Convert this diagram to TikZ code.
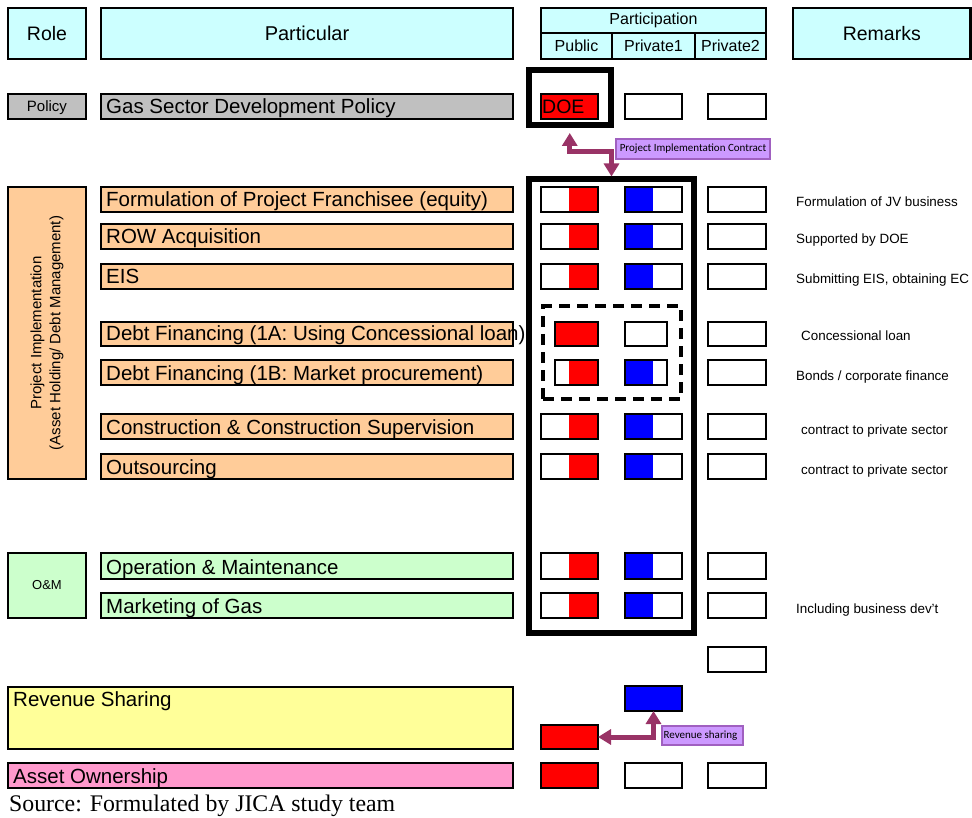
\documentclass[tikz,border=0pt]{standalone}
\usepackage{fontspec}
\setmainfont{Liberation Sans}
\newfontfamily\notefont{Carlito}
\newfontfamily\sourcefont{Liberation Serif}
\usetikzlibrary{fit,arrows.meta}
\definecolor{hdrcyan}{HTML}{CCFFFF}
\definecolor{policygray}{HTML}{C0C0C0}
\definecolor{implorange}{HTML}{FFCC99}
\definecolor{omgreen}{HTML}{CCFFCC}
\definecolor{revyellow}{HTML}{FFFF99}
\definecolor{assetpink}{HTML}{FF99CC}
\definecolor{flowplum}{HTML}{993366}
\definecolor{notelilac}{HTML}{CC99FF}
\definecolor{noteedge}{HTML}{A060C0}
\newcommand\fsz[1]{\fontsize{#1}{#1}\selectfont}

\begin{document}
\begin{tikzpicture}[x=1pt,y=-1pt,
  cell/.style={draw=black, line width=2.5pt, inner sep=0pt, outer sep=0pt},
  hdr/.style={cell, fill=hdrcyan},
  solid fill/.style={inner sep=0pt, outer sep=0pt, draw=none},
  caption/.style={inner sep=0pt},
  rowtext/.style={anchor=base west, inner sep=0pt, font=\fsz{20.5}},
  remark/.style={anchor=base west, inner sep=0pt, font=\fsz{13.4}},
  frame/.style={draw=black, line width=6pt, inner sep=0pt},
  flow/.style={draw=flowplum, line width=5pt,
    {Triangle[length=13pt,width=15pt]}-{Triangle[length=13pt,width=15pt]}},
  note/.style={draw=noteedge, line width=1.2pt, fill=notelilac, inner sep=0pt},
  notetext/.style={inner sep=0pt, font=\notefont\fsz{11}}
]
\useasboundingbox (0,0) rectangle (972,818);

% ---------- header row ----------
\node[hdr, fit={(8,8) (86,59)}] (hrole) {};
\node[caption, font=\fsz{19.5}] (throle) at (hrole.center) {Role};
\node[hdr, fit={(101,8) (513,59)}] (hpart) {};
\node[caption, font=\fsz{20}] (thpart) at (hpart.center) {Particular};
\node[hdr, fit={(541,8) (766,33)}] (hpartic) {};
\node[caption, font=\fsz{16}] (thpartic) at (hpartic.center) {Participation};
\node[hdr, fit={(541,33) (612,59)}] (hpub) {};
\node[caption, font=\fsz{16}] (thpub) at (hpub.center) {Public};
\node[hdr, fit={(612,33) (695,59)}] (hpri) {};
\node[caption, font=\fsz{16}] (thpri) at (hpri.center) {Private1};
\node[hdr, fit={(695,33) (766,59)}] (hprii) {};
\node[caption, font=\fsz{16}] (thprii) at (hprii.center) {Private2};
\node[hdr, fit={(793,8) (970.5,59)}] (hrem) {};
\node[caption, font=\fsz{19.5}] (threm) at (hrem.center) {Remarks};

% ---------- policy row ----------
\node[cell, fill=policygray, fit={(8,94) (86,119)}] (rpolicy) {};
\node[caption, font=\fsz{15}] (trpolicy) at ([yshift=-1.5pt]rpolicy.center) {Policy};
\node[cell, fill=policygray, fit={(101,94) (513,119)}] (ppolicy) {};
\node[rowtext] (tpolicy) at (106,114) {Gas Sector Development Policy};
\node[cell, fill=red, fit={(541,94) (598,119)}] (doe) {};
\node[anchor=base west, inner sep=0pt, font=\fsz{19.5}] (doetext) at (542,114) {DOE};
\node[cell, fit={(625,94) (682,119)}] (pripolicy) {};
\node[cell, fit={(708,94) (766,119)}] (priipolicy) {};
\node[frame, fit={(528.5,70) (611,125.5)}] (doeframe) {};

% ---------- role boxes on the left ----------
\node[cell, fill=implorange, fit={(8,187) (86,479)}] (rimpl) {};
\node[rotate=90, align=center, font=\fontsize{15}{19}\selectfont, inner sep=0pt]
  (timpl) at (rimpl.center) {Project Implementation\\(Asset Holding/ Debt Management)};
\node[cell, fill=omgreen, fit={(8,553) (86,618)}] (rom) {};
\node[caption, font=\fsz{13}] (trom) at (rom.center) {O\&M};

% ---------- standard rows ----------
\foreach \r/\t/\b/\c/\txt in {
  1/187/212/implorange/{Formulation of Project Franchisee (equity)},
  2/224/249/implorange/{ROW Acquisition},
  3/264/289/implorange/{EIS},
  6/414/439/implorange/{Construction \& Construction Supervision},
  7/454/479/implorange/{Outsourcing},
  8/553/579/omgreen/{Operation \& Maintenance},
  9/593/618/omgreen/{Marketing of Gas}}{
  \node[cell, fill=\c, fit={(101,\t) (513,\b)}] (part\r) {};
  \node[rowtext] (ptext\r) at (106,{\b-5}) {\txt};
  \node[solid fill, fill=red, fit={(569,\t) (598,\b)}] (pubfill\r) {};
  \node[cell, fit={(541,\t) (598,\b)}] (pub\r) {};
  \node[solid fill, fill=blue, fit={(625,\t) (653,\b)}] (prifill\r) {};
  \node[cell, fit={(625,\t) (682,\b)}] (pri\r) {};
  \node[cell, fit={(708,\t) (766,\b)}] (prii\r) {};
}

% ---------- debt financing rows ----------
\node[cell, fill=implorange, fit={(101,322) (513,346)}] (part4) {};
\node[rowtext] (ptext4) at (106,341) {Debt Financing (1A: Using Concessional loan)};
\node[cell, fill=red, fit={(555,322) (598,346)}] (pub4) {};
\node[cell, fit={(625,322) (667,346)}] (pri4) {};
\node[cell, fit={(708,322) (766,346)}] (prii4) {};

\node[cell, fill=implorange, fit={(101,360) (513,385)}] (part5) {};
\node[rowtext] (ptext5) at (106,380) {Debt Financing (1B: Market procurement)};
\node[solid fill, fill=red, fit={(569,360) (598,385)}] (pubfill5) {};
\node[cell, fit={(555,360) (598,385)}] (pub5) {};
\node[solid fill, fill=blue, fit={(625,360) (653,385)}] (prifill5) {};
\node[cell, fit={(625,360) (667,385)}] (pri5) {};
\node[cell, fit={(708,360) (766,385)}] (prii5) {};

\node[draw=black, line width=4pt, dash pattern=on 11pt off 7pt, inner sep=0pt,
  fit={(543,306.5) (681,399)}] (debtframe) {};

% ---------- remarks ----------
\foreach \r/\b/\x/\txt in {
  1/212/796/{Formulation of JV business},
  2/249/796/{Supported by DOE},
  3/289/796/{Submitting EIS, obtaining EC},
  4/346/801/{Concessional loan},
  5/385/796/{Bonds / corporate finance},
  6/439/801/{contract to private sector},
  7/479/801/{contract to private sector},
  9/618/796/{Including business dev\symbol{39}t}}{
  \node[remark] (rem\r) at (\x,{\b-5}) {\txt};
}

% ---------- frame around the implementation phase ----------
\node[frame, fit={(529,179.5) (694,632.5)}] (bigframe) {};

% ---------- revenue sharing and asset ownership ----------
\node[cell, fit={(708,647) (766,672)}] (priiextra) {};
\node[cell, fill=revyellow, fit={(8,687) (513,749)}] (rrev) {};
\node[rowtext] (trev) at (13,706) {Revenue Sharing};
\node[cell, fill=blue, fit={(625,686) (682,711)}] (revblue) {};
\node[cell, fill=red, fit={(541,725) (598,749)}] (revred) {};

\node[cell, fill=assetpink, fit={(8,763) (513,788)}] (rasset) {};
\node[rowtext] (tasset) at (13,783) {Asset Ownership};
\node[cell, fill=red, fit={(541,763) (598,788)}] (pubasset) {};
\node[cell, fit={(625,763) (682,788)}] (priasset) {};
\node[cell, fit={(708,763) (766,788)}] (priiasset) {};

% ---------- flows ----------
\coordinate (picbend) at (0,152);
\draw[flow, shorten <=4.5pt] (doeframe.south) -- (doeframe.south |- picbend) -| (bigframe.north);
\node[note, fit={(616,139) (770,159)}] (picnote) {};
\node[notetext] (tpicnote) at (picnote.center) {Project Implementation Contract};

\draw[flow] (revblue.south) |- (revred.east);
\node[note, fit={(662,726) (743,745)}] (revnote) {};
\node[notetext, anchor=west] (trevnote) at ([xshift=2pt]revnote.west) {Revenue sharing};

% ---------- source line ----------
\node[anchor=base west, inner sep=0pt, font=\sourcefont\fsz{23.8}] (source) at (9,811)
  {Source: Formulated by JICA study team};
\end{tikzpicture}
\end{document}
